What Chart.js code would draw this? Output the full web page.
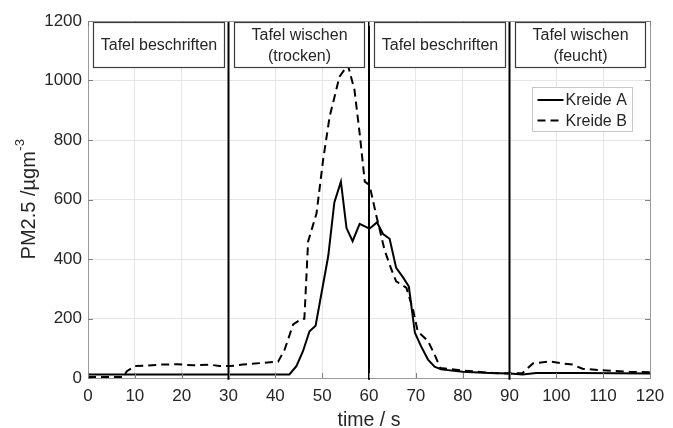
<!DOCTYPE html>
<html>
<head>
<meta charset="utf-8">
<script src="https://cdn.jsdelivr.net/npm/chart.js@4/dist/chart.umd.min.js"></script>
<style>
  html, body { margin: 0; padding: 0; background: #fff; }
  #wrap { width: 673px; height: 428px; }
</style>
</head>
<body>
<div id="wrap"><canvas id="pmChart" width="673" height="428"></canvas></div>
<script>
// PM2.5 concentration over time for two chalk types
const timeA = [0, 43, 44.5, 45.9, 47.3, 48.6, 51.3, 52.6, 54, 55.2, 56.5, 58, 60.1, 61.7, 63, 64.4,
  65.8, 67.2, 68.5, 69.8, 71.1, 72.6, 74, 75.4, 80, 85.7, 90, 92.8, 95.7, 105, 120];
const kreideA = [12, 12, 40, 90, 157, 176, 410, 590, 660, 504, 460, 518, 502, 523, 484, 468,
  370, 340, 308, 152, 107, 62, 38, 29, 21, 17, 15, 12, 17, 17, 15];

const timeB = [0, 7.5, 8.3, 10, 12.5, 15.7, 18.9, 22.5, 26, 28.1, 30.3, 33.1, 36.7, 40.6, 42, 43.8,
  45.6, 46.2, 47, 48.8, 50.2, 51.6, 53.7, 55.5, 56.9, 58, 59.1, 60.1, 61.6, 62.3, 63.3, 64.8,
  65.8, 68, 69.4, 70.4, 72.6, 74, 75.2, 80, 86.5, 90, 92.8, 95, 98.5, 101.4, 103.5, 105.6,
  109.9, 115.6, 120];
const kreideB = [3, 3, 23, 40, 42, 45, 46, 43, 45, 40, 40, 45, 50, 55, 96, 180,
  199, 199, 459, 554, 733, 879, 1013, 1052, 968, 823, 660, 649, 543, 498, 431, 364,
  325, 303, 230, 157, 124, 79, 34, 25, 17, 15, 17, 49, 56, 49, 45, 31,
  26, 21, 19];

// experiment phases
const phaseStart = [0, 30, 60, 90];
const phaseEnd = [30, 60, 90, 120];
const phaseLabels = [
  ["Tafel beschriften"],
  ["Tafel wischen", "(trocken)"],
  ["Tafel beschriften"],
  ["Tafel wischen", "(feucht)"],
];

const seriesNames = ["Kreide A", "Kreide B"];
const xTicks = [0, 10, 20, 30, 40, 50, 60, 70, 80, 90, 100, 110, 120];
const yTicks = [0, 200, 400, 600, 800, 1000, 1200];

const FONT = '"Liberation Sans", Arial, Helvetica, sans-serif';
const TEXT = "#262626";
const AXIS = "#9a9a9a";

function points(xs, ys) {
  return xs.map((x, i) => ({ x, y: ys[i] }));
}

// vertical separators between phases, running a little past the x axis
const phaseLines = phaseStart.slice(1).map((t) => ({
  label: "",
  data: [{ x: t, y: -6 }, { x: t, y: 1200 }],
  borderColor: "#000",
  borderWidth: 2,
  pointRadius: 0,
  clip: { left: 0, right: 0, top: 0, bottom: 4 },
}));

const decorations = {
  id: "decorations",
  afterDatasetsDraw(chart) {
    const { ctx, chartArea: a, scales } = chart;
    const xs = scales.x;
    const ys = scales.y;
    ctx.save();

    // top and right frame, inward tick marks
    ctx.strokeStyle = AXIS;
    ctx.lineWidth = 1;
    ctx.beginPath();
    ctx.moveTo(a.left, a.top + 0.5);
    ctx.lineTo(a.right + 0.5, a.top + 0.5);
    ctx.lineTo(a.right + 0.5, a.bottom);
    ctx.stroke();
    ctx.strokeStyle = "#808080";
    ctx.beginPath();
    yTicks.forEach((v) => {
      const py = Math.round(ys.getPixelForValue(v)) + 0.5;
      ctx.moveTo(a.right, py);
      ctx.lineTo(a.right - 5, py);
      ctx.moveTo(a.left, py);
      ctx.lineTo(a.left + 5, py);
    });
    xTicks.forEach((v) => {
      const px = Math.round(xs.getPixelForValue(v)) + 0.5;
      ctx.moveTo(px, a.top);
      ctx.lineTo(px, a.top + 5);
      ctx.moveTo(px, a.bottom);
      ctx.lineTo(px, a.bottom - 5);
    });
    ctx.stroke();

    // phase label boxes
    const boxTop = Math.round(ys.getPixelForValue(1195)) + 0.5;
    const boxBottom = Math.round(ys.getPixelForValue(1045)) + 0.5;
    ctx.font = "16px " + FONT;
    ctx.textAlign = "center";
    ctx.textBaseline = "middle";
    phaseLabels.forEach((lines, i) => {
      const l = Math.round(xs.getPixelForValue(phaseStart[i])) + 5.5;
      const r = Math.round(xs.getPixelForValue(phaseEnd[i])) - 4.5;
      ctx.fillStyle = "#fff";
      ctx.fillRect(l, boxTop, r - l, boxBottom - boxTop);
      ctx.strokeStyle = "#3c3c3c";
      ctx.lineWidth = 1.2;
      ctx.strokeRect(l, boxTop, r - l, boxBottom - boxTop);
      ctx.fillStyle = TEXT;
      const cx = (l + r) / 2;
      const cy = (boxTop + boxBottom) / 2 + 1;
      const step = 21;
      lines.forEach((txt, k) => {
        ctx.fillText(txt, cx, cy + (k - (lines.length - 1) / 2) * step);
      });
    });

    // legend
    const lx = a.right - 117.5;
    const ly = a.top + 66.5;
    const lw = 100;
    const lh = 44;
    ctx.fillStyle = "#fff";
    ctx.fillRect(lx, ly, lw, lh);
    ctx.strokeStyle = "#c8c8c8";
    ctx.lineWidth = 1;
    ctx.strokeRect(lx, ly, lw, lh);
    ctx.textAlign = "left";
    seriesNames.forEach((name, i) => {
      const ds = chart.data.datasets[i];
      const rowY = ly + 12.5 + i * 20.5;
      ctx.strokeStyle = "#000";
      ctx.lineWidth = 2;
      ctx.setLineDash(ds.borderDash || []);
      ctx.beginPath();
      ctx.moveTo(lx + 5, rowY);
      ctx.lineTo(lx + 31, rowY);
      ctx.stroke();
      ctx.setLineDash([]);
      ctx.fillStyle = TEXT;
      ctx.fillText(name, lx + 33, rowY + 1);
    });

    // axis titles
    ctx.fillStyle = TEXT;
    ctx.save();
    ctx.translate(29, (a.top + a.bottom) / 2);
    ctx.rotate(-Math.PI / 2);
    ctx.font = "20px " + FONT;
    const main = "PM2.5 /\u00b5gm";
    const mw = ctx.measureText(main).width;
    ctx.font = "13px " + FONT;
    const sw = ctx.measureText("-3").width;
    const x0 = -(mw + sw) / 2;
    ctx.textAlign = "left";
    ctx.textBaseline = "middle";
    ctx.font = "20px " + FONT;
    ctx.fillText(main, x0, 0);
    ctx.font = "13px " + FONT;
    ctx.fillText("-3", x0 + mw + 0.5, -9);
    ctx.restore();

    ctx.font = "19.5px " + FONT;
    ctx.textAlign = "center";
    ctx.textBaseline = "alphabetic";
    ctx.fillText("time / s", (a.left + a.right) / 2, 426);

    ctx.restore();
  },
};

new Chart(document.getElementById("pmChart"), {
  type: "line",
  data: {
    datasets: [
      {
        label: seriesNames[0],
        data: points(timeA, kreideA),
        borderColor: "#000",
        borderWidth: 2,
        pointRadius: 0,
      },
      {
        label: seriesNames[1],
        data: points(timeB, kreideB),
        borderColor: "#000",
        borderWidth: 2,
        borderDash: [8, 5],
        pointRadius: 0,
      },
      ...phaseLines,
    ],
  },
  options: {
    responsive: false,
    animation: false,
    layout: { padding: { top: 21, right: 23, left: 0, bottom: 0 } },
    plugins: { legend: { display: false }, tooltip: { enabled: false } },
    scales: {
      x: {
        type: "linear",
        min: 0,
        max: 120,
        afterBuildTicks: (scale) => { scale.ticks = xTicks.map((v) => ({ value: v })); },
        afterFit: (scale) => { scale.height = 50; },
        ticks: {
          font: { size: 17, family: FONT },
          color: TEXT,
          padding: 8,
          maxRotation: 0,
          callback: (v) => String(v),
        },
        grid: { color: "#e6e6e6", drawTicks: false },
        border: { color: AXIS, width: 1 },
      },
      y: {
        min: 0,
        max: 1200,
        afterBuildTicks: (scale) => { scale.ticks = yTicks.map((v) => ({ value: v })); },
        afterFit: (scale) => { scale.width = 88; },
        ticks: {
          font: { size: 17, family: FONT },
          color: TEXT,
          padding: 6,
          callback: (v) => String(v),
        },
        grid: { color: "#e6e6e6", drawTicks: false },
        border: { color: AXIS, width: 1 },
      },
    },
  },
  plugins: [decorations],
});
</script>
</body>
</html>
